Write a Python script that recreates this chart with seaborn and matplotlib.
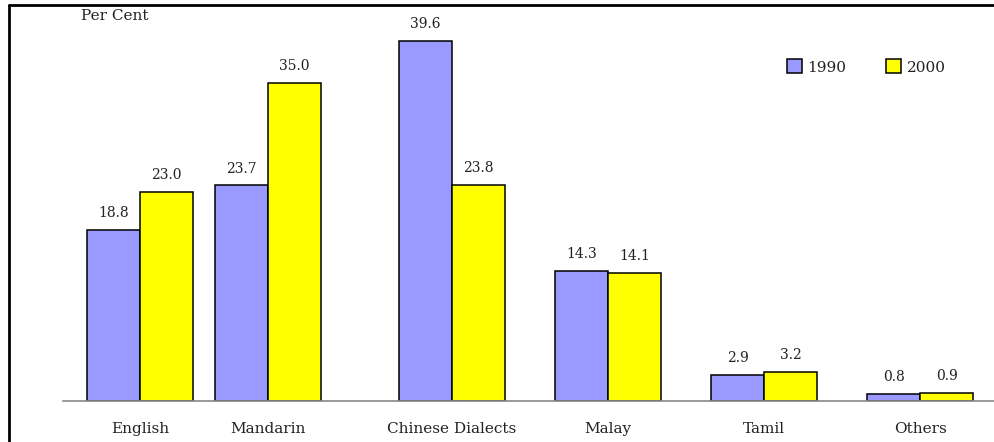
import matplotlib
matplotlib.use("Agg")
import matplotlib.pyplot as plt
from matplotlib.lines import Line2D
from matplotlib.patches import Patch
import seaborn as sns
import pandas as pd

# Resident population by language most frequently spoken at home
languages = ["English", "Mandarin", "Chinese Dialects", "Malay", "Tamil", "Others"]
share_1990 = [18.8, 23.7, 39.6, 14.3, 2.9, 0.8]
share_2000 = [23.0, 35.0, 23.8, 14.1, 3.2, 0.9]
years = ["1990", "2000"]

# group centres along the category axis (layout only)
group_pos = [0.0, 0.82, 2.0, 3.0, 4.0, 5.0]

df = pd.DataFrame({
    "pos": group_pos * 2,
    "language": languages * 2,
    "year": [years[0]] * len(languages) + [years[1]] * len(languages),
    "share": share_1990 + share_2000,
})

sns.set_theme(style="white")
plt.rcParams["font.family"] = ["DejaVu Serif"]

fig = plt.figure(figsize=(9.95, 4.42), dpi=100)
ax = fig.add_axes([63 / 995, 1 - 401 / 442, 1 - 63 / 995, 391 / 442])

palette = {"1990": "#9999FF", "2000": "#FFFF00"}
sns.barplot(data=df, x="pos", y="share", hue="year", hue_order=years,
            palette=palette, native_scale=True, width=0.83,
            edgecolor="black", linewidth=1.1, saturation=1,
            legend=False, ax=ax)

for cont in ax.containers:
    ax.bar_label(cont, fmt="%.1f", padding=7, fontsize=10, color="#222222")

ax.set_xlim(-0.494, 5.48)
ax.set_ylim(0, 43.0)
ax.set_xticks(group_pos)
ax.set_xticklabels(languages, fontsize=11, color="#222222")
ax.set_yticks([])
ax.set_xlabel("")
ax.set_ylabel("")
ax.tick_params(axis="x", length=0, pad=15)
for side in ["left", "top", "right"]:
    ax.spines[side].set_visible(False)
ax.spines["bottom"].set_color("#888888")
ax.spines["bottom"].set_linewidth(1.2)

fig.text(115 / 995, 1 - 16 / 442, "Per Cent", ha="center", va="center",
         fontsize=11, color="#222222")

handles = [Patch(facecolor=palette[y], edgecolor="black", linewidth=1.1, label=y)
           for y in years]
fig.legend(handles=handles, loc="center left",
           bbox_to_anchor=(773 / 995, 1 - 67 / 442), ncol=2, frameon=False,
           handlelength=1.0, handleheight=1.0, handletextpad=0.35,
           columnspacing=2.6, fontsize=11, labelcolor="#222222")

# outer frame on the top and left edges
fig.add_artist(Line2D([9 / 995, 1], [1 - 5 / 442, 1 - 5 / 442], color="black",
                      linewidth=2, transform=fig.transFigure))
fig.add_artist(Line2D([9 / 995, 9 / 995], [0, 1 - 5 / 442], color="black",
                      linewidth=2, transform=fig.transFigure))

fig.savefig("out.png", dpi=100)
